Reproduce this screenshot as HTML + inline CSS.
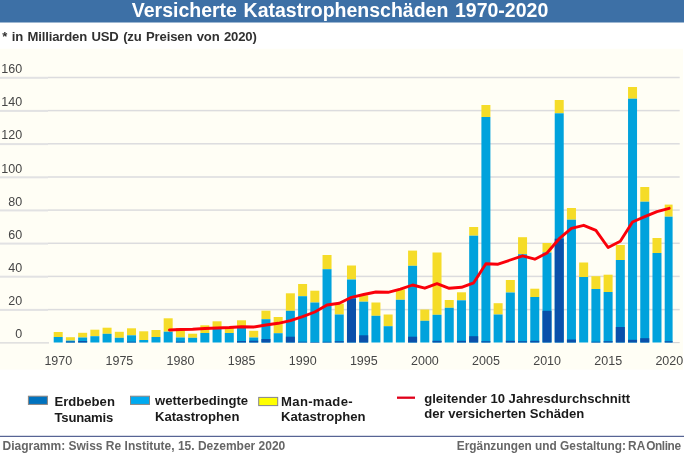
<!DOCTYPE html>
<html lang="de"><head><meta charset="utf-8"><title>Versicherte Katastrophenschäden 1970-2020</title>
<style>
html,body{margin:0;padding:0;background:#fff;}
body{width:684px;height:458px;position:relative;overflow:hidden;font-family:"Liberation Sans",Arial,Helvetica,sans-serif;}
.wrap{position:absolute;left:0;top:0;width:684px;height:458px;will-change:transform;}
.t{position:absolute;white-space:nowrap;font-weight:bold;line-height:1;}
.ax{font-family:"Liberation Sans",Arial,Helvetica,sans-serif;font-size:12.5px;fill:#464646;}
</style></head><body>
<div class="wrap">
<svg width="684" height="458" viewBox="0 0 684 458" style="position:absolute;left:0;top:0">
<rect x="0" y="0" width="684" height="22.5" fill="#3d70a6"/>
<rect x="0" y="48.8" width="683" height="320.8" fill="#fffef5"/>
<rect x="0" y="76.80" width="48" height="2" fill="#e2e2e3"/>
<rect x="48" y="76.75" width="631.7" height="1.5" fill="#dcdcde"/>
<rect x="0" y="109.90" width="48" height="2" fill="#e2e2e3"/>
<rect x="48" y="109.85" width="631.7" height="1.5" fill="#dcdcde"/>
<rect x="0" y="143.10" width="48" height="2" fill="#e2e2e3"/>
<rect x="48" y="143.05" width="631.7" height="1.5" fill="#dcdcde"/>
<rect x="0" y="176.30" width="48" height="2" fill="#e2e2e3"/>
<rect x="48" y="176.25" width="631.7" height="1.5" fill="#dcdcde"/>
<rect x="0" y="209.40" width="48" height="2" fill="#e2e2e3"/>
<rect x="48" y="209.35" width="631.7" height="1.5" fill="#dcdcde"/>
<rect x="0" y="242.60" width="48" height="2" fill="#e2e2e3"/>
<rect x="48" y="242.55" width="631.7" height="1.5" fill="#dcdcde"/>
<rect x="0" y="275.70" width="48" height="2" fill="#e2e2e3"/>
<rect x="48" y="275.65" width="631.7" height="1.5" fill="#dcdcde"/>
<rect x="0" y="308.90" width="48" height="2" fill="#e2e2e3"/>
<rect x="48" y="308.85" width="631.7" height="1.5" fill="#dcdcde"/>
<rect x="0" y="342.35" width="49" height="1.1" fill="#d2d2d4"/>
<rect x="672.6" y="342.05" width="7.1" height="1.1" fill="#d2d2d4"/>
<rect x="53.70" y="332.00" width="9.00" height="5.00" fill="#f5dc28"/>
<rect x="53.70" y="337.00" width="9.00" height="5.50" fill="#00a2dc"/>
<rect x="65.92" y="337.20" width="9.00" height="3.40" fill="#f5dc28"/>
<rect x="65.92" y="340.60" width="9.00" height="1.90" fill="#00a2dc"/>
<rect x="65.92" y="341.50" width="9.00" height="1.00" fill="#0a50aa"/>
<rect x="78.14" y="332.80" width="9.00" height="4.70" fill="#f5dc28"/>
<rect x="78.14" y="337.50" width="9.00" height="5.00" fill="#00a2dc"/>
<rect x="78.14" y="341.00" width="9.00" height="1.50" fill="#0a50aa"/>
<rect x="90.36" y="329.70" width="9.00" height="6.50" fill="#f5dc28"/>
<rect x="90.36" y="336.20" width="9.00" height="6.30" fill="#00a2dc"/>
<rect x="102.58" y="327.70" width="9.00" height="6.10" fill="#f5dc28"/>
<rect x="102.58" y="333.80" width="9.00" height="8.70" fill="#00a2dc"/>
<rect x="114.80" y="331.80" width="9.00" height="6.00" fill="#f5dc28"/>
<rect x="114.80" y="337.80" width="9.00" height="4.70" fill="#00a2dc"/>
<rect x="127.02" y="328.30" width="9.00" height="7.00" fill="#f5dc28"/>
<rect x="127.02" y="335.30" width="9.00" height="7.20" fill="#00a2dc"/>
<rect x="127.02" y="341.70" width="9.00" height="0.80" fill="#0a50aa"/>
<rect x="139.24" y="331.30" width="9.00" height="8.70" fill="#f5dc28"/>
<rect x="139.24" y="340.00" width="9.00" height="2.50" fill="#00a2dc"/>
<rect x="151.46" y="330.00" width="9.00" height="7.00" fill="#f5dc28"/>
<rect x="151.46" y="337.00" width="9.00" height="5.50" fill="#00a2dc"/>
<rect x="163.68" y="318.30" width="9.00" height="13.40" fill="#f5dc28"/>
<rect x="163.68" y="331.70" width="9.00" height="10.80" fill="#00a2dc"/>
<rect x="175.90" y="328.00" width="9.00" height="9.50" fill="#f5dc28"/>
<rect x="175.90" y="337.50" width="9.00" height="5.00" fill="#00a2dc"/>
<rect x="175.90" y="341.70" width="9.00" height="0.80" fill="#0a50aa"/>
<rect x="188.12" y="333.70" width="9.00" height="4.10" fill="#f5dc28"/>
<rect x="188.12" y="337.80" width="9.00" height="4.70" fill="#00a2dc"/>
<rect x="200.34" y="325.30" width="9.00" height="7.70" fill="#f5dc28"/>
<rect x="200.34" y="333.00" width="9.00" height="9.50" fill="#00a2dc"/>
<rect x="212.56" y="321.30" width="9.00" height="7.40" fill="#f5dc28"/>
<rect x="212.56" y="328.70" width="9.00" height="13.80" fill="#00a2dc"/>
<rect x="224.78" y="328.00" width="9.00" height="5.00" fill="#f5dc28"/>
<rect x="224.78" y="333.00" width="9.00" height="9.50" fill="#00a2dc"/>
<rect x="237.00" y="320.30" width="9.00" height="7.20" fill="#f5dc28"/>
<rect x="237.00" y="327.50" width="9.00" height="15.00" fill="#00a2dc"/>
<rect x="237.00" y="341.00" width="9.00" height="1.50" fill="#0a50aa"/>
<rect x="249.22" y="330.80" width="9.00" height="6.70" fill="#f5dc28"/>
<rect x="249.22" y="337.50" width="9.00" height="5.00" fill="#00a2dc"/>
<rect x="249.22" y="340.70" width="9.00" height="1.80" fill="#0a50aa"/>
<rect x="261.44" y="310.70" width="9.00" height="8.50" fill="#f5dc28"/>
<rect x="261.44" y="319.20" width="9.00" height="23.30" fill="#00a2dc"/>
<rect x="261.44" y="339.00" width="9.00" height="3.50" fill="#0a50aa"/>
<rect x="273.66" y="317.00" width="9.00" height="16.20" fill="#f5dc28"/>
<rect x="273.66" y="333.20" width="9.00" height="9.30" fill="#00a2dc"/>
<rect x="285.88" y="293.30" width="9.00" height="17.50" fill="#f5dc28"/>
<rect x="285.88" y="310.80" width="9.00" height="31.70" fill="#00a2dc"/>
<rect x="285.88" y="336.70" width="9.00" height="5.80" fill="#0a50aa"/>
<rect x="298.10" y="284.00" width="9.00" height="12.20" fill="#f5dc28"/>
<rect x="298.10" y="296.20" width="9.00" height="46.30" fill="#00a2dc"/>
<rect x="298.10" y="341.70" width="9.00" height="0.80" fill="#0a50aa"/>
<rect x="310.32" y="290.70" width="9.00" height="11.80" fill="#f5dc28"/>
<rect x="310.32" y="302.50" width="9.00" height="40.00" fill="#00a2dc"/>
<rect x="310.32" y="342.00" width="9.00" height="0.50" fill="#0a50aa"/>
<rect x="322.54" y="255.00" width="9.00" height="14.20" fill="#f5dc28"/>
<rect x="322.54" y="269.20" width="9.00" height="73.30" fill="#00a2dc"/>
<rect x="322.54" y="341.80" width="9.00" height="0.70" fill="#0a50aa"/>
<rect x="334.76" y="303.70" width="9.00" height="10.80" fill="#f5dc28"/>
<rect x="334.76" y="314.50" width="9.00" height="28.00" fill="#00a2dc"/>
<rect x="334.76" y="341.20" width="9.00" height="1.30" fill="#0a50aa"/>
<rect x="346.98" y="265.50" width="9.00" height="14.00" fill="#f5dc28"/>
<rect x="346.98" y="279.50" width="9.00" height="63.00" fill="#00a2dc"/>
<rect x="346.98" y="298.70" width="9.00" height="43.80" fill="#0a50aa"/>
<rect x="359.20" y="295.30" width="9.00" height="6.40" fill="#f5dc28"/>
<rect x="359.20" y="301.70" width="9.00" height="40.80" fill="#00a2dc"/>
<rect x="359.20" y="335.30" width="9.00" height="7.20" fill="#0a50aa"/>
<rect x="371.42" y="302.50" width="9.00" height="13.30" fill="#f5dc28"/>
<rect x="371.42" y="315.80" width="9.00" height="26.70" fill="#00a2dc"/>
<rect x="383.64" y="314.50" width="9.00" height="11.70" fill="#f5dc28"/>
<rect x="383.64" y="326.20" width="9.00" height="16.30" fill="#00a2dc"/>
<rect x="395.86" y="289.50" width="9.00" height="10.30" fill="#f5dc28"/>
<rect x="395.86" y="299.80" width="9.00" height="42.70" fill="#00a2dc"/>
<rect x="408.08" y="250.60" width="9.00" height="15.20" fill="#f5dc28"/>
<rect x="408.08" y="265.80" width="9.00" height="76.70" fill="#00a2dc"/>
<rect x="408.08" y="336.70" width="9.00" height="5.80" fill="#0a50aa"/>
<rect x="420.30" y="309.50" width="9.00" height="11.30" fill="#f5dc28"/>
<rect x="420.30" y="320.80" width="9.00" height="21.70" fill="#00a2dc"/>
<rect x="432.52" y="252.50" width="9.00" height="62.30" fill="#f5dc28"/>
<rect x="432.52" y="314.80" width="9.00" height="27.70" fill="#00a2dc"/>
<rect x="432.52" y="340.80" width="9.00" height="1.70" fill="#0a50aa"/>
<rect x="444.74" y="300.00" width="9.00" height="7.80" fill="#f5dc28"/>
<rect x="444.74" y="307.80" width="9.00" height="34.70" fill="#00a2dc"/>
<rect x="456.96" y="292.30" width="9.00" height="8.00" fill="#f5dc28"/>
<rect x="456.96" y="300.30" width="9.00" height="42.20" fill="#00a2dc"/>
<rect x="456.96" y="340.80" width="9.00" height="1.70" fill="#0a50aa"/>
<rect x="469.18" y="227.00" width="9.00" height="8.70" fill="#f5dc28"/>
<rect x="469.18" y="235.70" width="9.00" height="106.80" fill="#00a2dc"/>
<rect x="469.18" y="336.20" width="9.00" height="6.30" fill="#0a50aa"/>
<rect x="481.40" y="105.00" width="9.00" height="12.00" fill="#f5dc28"/>
<rect x="481.40" y="117.00" width="9.00" height="225.50" fill="#00a2dc"/>
<rect x="481.40" y="341.20" width="9.00" height="1.30" fill="#0a50aa"/>
<rect x="493.62" y="303.20" width="9.00" height="11.30" fill="#f5dc28"/>
<rect x="493.62" y="314.50" width="9.00" height="28.00" fill="#00a2dc"/>
<rect x="505.84" y="280.00" width="9.00" height="12.50" fill="#f5dc28"/>
<rect x="505.84" y="292.50" width="9.00" height="50.00" fill="#00a2dc"/>
<rect x="505.84" y="340.80" width="9.00" height="1.70" fill="#0a50aa"/>
<rect x="518.06" y="237.20" width="9.00" height="17.00" fill="#f5dc28"/>
<rect x="518.06" y="254.20" width="9.00" height="88.30" fill="#00a2dc"/>
<rect x="518.06" y="341.20" width="9.00" height="1.30" fill="#0a50aa"/>
<rect x="530.28" y="288.70" width="9.00" height="8.30" fill="#f5dc28"/>
<rect x="530.28" y="297.00" width="9.00" height="45.50" fill="#00a2dc"/>
<rect x="530.28" y="340.80" width="9.00" height="1.70" fill="#0a50aa"/>
<rect x="542.50" y="243.00" width="9.00" height="9.50" fill="#f5dc28"/>
<rect x="542.50" y="252.50" width="9.00" height="90.00" fill="#00a2dc"/>
<rect x="542.50" y="310.80" width="9.00" height="31.70" fill="#0a50aa"/>
<rect x="554.72" y="100.00" width="9.00" height="13.30" fill="#f5dc28"/>
<rect x="554.72" y="113.30" width="9.00" height="229.20" fill="#00a2dc"/>
<rect x="554.72" y="238.70" width="9.00" height="103.80" fill="#0a50aa"/>
<rect x="566.94" y="208.00" width="9.00" height="11.70" fill="#f5dc28"/>
<rect x="566.94" y="219.70" width="9.00" height="122.80" fill="#00a2dc"/>
<rect x="566.94" y="339.50" width="9.00" height="3.00" fill="#0a50aa"/>
<rect x="579.16" y="262.50" width="9.00" height="14.50" fill="#f5dc28"/>
<rect x="579.16" y="277.00" width="9.00" height="65.50" fill="#00a2dc"/>
<rect x="591.38" y="276.20" width="9.00" height="12.80" fill="#f5dc28"/>
<rect x="591.38" y="289.00" width="9.00" height="53.50" fill="#00a2dc"/>
<rect x="591.38" y="341.70" width="9.00" height="0.80" fill="#0a50aa"/>
<rect x="603.60" y="274.70" width="9.00" height="17.30" fill="#f5dc28"/>
<rect x="603.60" y="292.00" width="9.00" height="50.50" fill="#00a2dc"/>
<rect x="603.60" y="341.20" width="9.00" height="1.30" fill="#0a50aa"/>
<rect x="615.82" y="245.00" width="9.00" height="15.00" fill="#f5dc28"/>
<rect x="615.82" y="260.00" width="9.00" height="82.50" fill="#00a2dc"/>
<rect x="615.82" y="327.00" width="9.00" height="15.50" fill="#0a50aa"/>
<rect x="628.04" y="87.00" width="9.00" height="11.70" fill="#f5dc28"/>
<rect x="628.04" y="98.70" width="9.00" height="243.80" fill="#00a2dc"/>
<rect x="628.04" y="339.80" width="9.00" height="2.70" fill="#0a50aa"/>
<rect x="640.26" y="187.00" width="9.00" height="14.70" fill="#f5dc28"/>
<rect x="640.26" y="201.70" width="9.00" height="140.80" fill="#00a2dc"/>
<rect x="640.26" y="338.20" width="9.00" height="4.30" fill="#0a50aa"/>
<rect x="652.48" y="238.00" width="9.00" height="15.00" fill="#f5dc28"/>
<rect x="652.48" y="253.00" width="9.00" height="89.50" fill="#00a2dc"/>
<rect x="664.70" y="204.60" width="7.90" height="12.10" fill="#f5dc28"/>
<rect x="664.70" y="216.70" width="7.90" height="125.80" fill="#00a2dc"/>
<rect x="664.70" y="341.20" width="7.90" height="1.30" fill="#0a50aa"/>
<polyline points="169.4,330.0 180.4,329.5 192.6,329.2 204.8,328.5 217.1,328.0 229.3,327.5 241.5,326.7 253.7,327.0 265.9,325.0 278.2,323.3 290.4,320.7 302.6,316.7 314.8,312.0 327.0,305.0 339.3,303.3 351.5,297.3 363.7,294.5 375.9,292.0 388.1,292.3 400.4,289.2 412.6,285.0 424.8,288.2 437.0,283.7 449.2,288.3 461.5,287.3 473.7,282.8 485.9,263.8 498.1,264.2 510.3,260.0 522.6,255.8 534.8,259.2 547.0,253.0 559.2,238.7 571.4,228.3 583.7,225.3 595.9,230.3 608.1,247.5 620.3,241.2 632.5,222.0 644.8,216.7 657.0,211.7 669.2,208.3" fill="none" stroke="#fa000a" stroke-width="2.9" stroke-linejoin="round" stroke-linecap="round"/>
<text x="22.2" y="73.0" text-anchor="end" class="ax">160</text>
<text x="22.2" y="106.1" text-anchor="end" class="ax">140</text>
<text x="22.2" y="139.3" text-anchor="end" class="ax">120</text>
<text x="22.2" y="172.5" text-anchor="end" class="ax">100</text>
<text x="22.2" y="205.6" text-anchor="end" class="ax">80</text>
<text x="22.2" y="238.8" text-anchor="end" class="ax">60</text>
<text x="22.2" y="271.9" text-anchor="end" class="ax">40</text>
<text x="22.2" y="305.1" text-anchor="end" class="ax">20</text>
<text x="22.2" y="338.3" text-anchor="end" class="ax">0</text>
<text x="58.3" y="364.8" text-anchor="middle" class="ax">1970</text>
<text x="119.4" y="364.8" text-anchor="middle" class="ax">1975</text>
<text x="180.5" y="364.8" text-anchor="middle" class="ax">1980</text>
<text x="241.6" y="364.8" text-anchor="middle" class="ax">1985</text>
<text x="302.7" y="364.8" text-anchor="middle" class="ax">1990</text>
<text x="363.8" y="364.8" text-anchor="middle" class="ax">1995</text>
<text x="424.9" y="364.8" text-anchor="middle" class="ax">2000</text>
<text x="486.0" y="364.8" text-anchor="middle" class="ax">2005</text>
<text x="547.1" y="364.8" text-anchor="middle" class="ax">2010</text>
<text x="608.2" y="364.8" text-anchor="middle" class="ax">2015</text>
<text x="669.3" y="364.8" text-anchor="middle" class="ax">2020</text>
<rect x="28.4" y="396.2" width="19" height="8.2" fill="#0072be" stroke="#8c8682" stroke-width="1"/>
<rect x="130.5" y="396.2" width="19" height="8.2" fill="#00aaf0" stroke="#8c8682" stroke-width="1"/>
<rect x="258.7" y="397.4" width="19" height="8.2" fill="#ffff00" stroke="#84848e" stroke-width="1"/>
<line x1="397" y1="397.7" x2="415" y2="397.7" stroke="#e0001a" stroke-width="2.3"/>
<rect x="0" y="435.8" width="684" height="1.05" fill="#3b4a82"/>
</svg>
<div class="t" style="left:131.8px;top:1px;font-size:19.5px;color:#fff;word-spacing:1.2px">Versicherte Katastrophenschäden 1970-2020</div>
<div class="t" style="left:2.3px;top:30px;font-size:13.1px;color:#303030;letter-spacing:-0.16px;word-spacing:1px">* in Milliarden USD (zu Preisen von 2020)</div>
<div class="t" style="left:54.5px;top:395px;font-size:13.1px;color:#1a1a1a;">Erdbeben</div>
<div class="t" style="left:54.5px;top:411px;font-size:13.1px;color:#1a1a1a;letter-spacing:-0.2px">Tsunamis</div>
<div class="t" style="left:155px;top:394px;font-size:13.1px;color:#1a1a1a;">wetterbedingte</div>
<div class="t" style="left:155px;top:410px;font-size:13.1px;color:#1a1a1a;">Katastrophen</div>
<div class="t" style="left:281.1px;top:395px;font-size:13.1px;color:#1a1a1a;letter-spacing:0.3px">Man-made-</div>
<div class="t" style="left:281.1px;top:410px;font-size:13.1px;color:#1a1a1a;">Katastrophen</div>
<div class="t" style="left:424.2px;top:392px;font-size:13.1px;color:#1a1a1a;">gleitender 10 Jahresdurchschnitt</div>
<div class="t" style="left:424.2px;top:407px;font-size:13.1px;color:#1a1a1a;">der versicherten Schäden</div>
<div class="t" style="left:2.5px;top:440px;font-size:12px;color:#666;">Diagramm: Swiss Re Institute, 15. Dezember 2020</div>
<div class="t" style="left:456.8px;top:441px;font-size:11.85px;color:#666;">Ergänzungen und Gestaltung:</div>
<div class="t" style="left:628.1px;top:441px;font-size:11.85px;color:#666;">RA</div>
<div class="t" style="left:646.2px;top:441px;font-size:11.85px;color:#666;letter-spacing:-0.4px">Online</div>
</div>
</body></html>
